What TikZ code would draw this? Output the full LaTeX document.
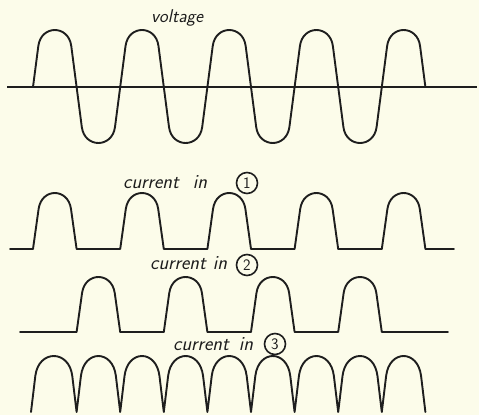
\documentclass[tikz,border=0pt]{standalone}
\usetikzlibrary{calc}
\definecolor{paper}{RGB}{252,252,234}
\definecolor{ink}{RGB}{30,30,30}
% positive lobe (y grows downward): from (x0,B) up to top T and down to (x1,B)
\newcommand\up[6]{-- ({#1+#5*(#3-#4-#6)},{#4+#6}) .. controls ({#1+#5*(#3-#4+#6/3)},{#4-#6/3}) and ({#2-#5*(#3-#4+#6/3)},{#4-#6/3}) .. ({#2-#5*(#3-#4-#6)},{#4+#6}) -- (#2,#3)}
% negative lobe: T below B
\newcommand\down[6]{-- ({#1+#5*(#4-#3-#6)},{#4-#6}) .. controls ({#1+#5*(#4-#3+#6/3)},{#4+#6/3}) and ({#2-#5*(#4-#3+#6/3)},{#4+#6/3}) .. ({#2-#5*(#4-#3-#6)},{#4-#6}) -- (#2,#3)}
\tikzset{
  wave/.style={draw=ink, line width=1.9pt, line join=round, line cap=round},
  axisline/.style={draw=ink, line width=1.6pt},
  lbl/.style={inner sep=0pt, text=ink, font=\fontsize{20}{20}\selectfont\sffamily\itshape},
  num/.style={circle, draw=ink, line width=1.6pt, minimum size=21pt, inner sep=0pt, text=ink, font=\fontsize{16}{16}\selectfont\sffamily},
}
\begin{document}
\begin{tikzpicture}[x=1pt, y=-1pt]
\fill[paper] (0,0) rectangle (479,415);
\useasboundingbox (0,0) rectangle (479,415);
% voltage
\node[lbl, font=\fontsize{18.5}{18.5}\selectfont\sffamily\itshape, anchor=base west] (vlbl) at (151,22) {voltage};
\coordinate (va) at (7,87);
\coordinate (vb) at (477,87);
\draw[axisline] (va) -- (vb);
\draw[wave] (33,87) \up{33}{76.6}{87}{30}{0.13}{16} \down{76.6}{120.2}{87}{143}{0.13}{16}
  \up{120.2}{163.8}{87}{30}{0.13}{16} \down{163.8}{207.4}{87}{143}{0.13}{16}
  \up{207.4}{251}{87}{30}{0.13}{16} \down{251}{294.6}{87}{143}{0.13}{16}
  \up{294.6}{338.2}{87}{30}{0.13}{16} \down{338.2}{381.8}{87}{143}{0.13}{16}
  \up{381.8}{425.4}{87}{30}{0.13}{16};
% current in 1
\node[lbl, anchor=base west] (c1lbl) at (123,188) {current\hspace{14pt}in};
\node[num] (n1) at (247,183) {1};
\draw[wave] (10,249) -- (33,249) \up{33}{76.6}{249}{193}{0.14}{16} -- (120.2,249)
  \up{120.2}{163.8}{249}{193}{0.14}{16} -- (207.4,249)
  \up{207.4}{251}{249}{193}{0.14}{16} -- (294.6,249)
  \up{294.6}{338.2}{249}{193}{0.14}{16} -- (381.8,249)
  \up{381.8}{425.4}{249}{193}{0.14}{16} -- (454,249);
% current in 2
\node[lbl, anchor=base west] (c2lbl) at (150,269) {current\hspace{7pt}in};
\node[num] (n2) at (247,265) {2};
\draw[wave] (20,332) -- (76.6,332) \up{76.6}{120.2}{332}{277}{0.14}{16} -- (163.8,332)
  \up{163.8}{207.4}{332}{277}{0.14}{16} -- (251,332)
  \up{251}{294.6}{332}{277}{0.14}{16} -- (338.2,332)
  \up{338.2}{381.8}{332}{277}{0.14}{16} -- (448,332);
% current in 3
\node[lbl, anchor=base west] (c3lbl) at (173,350) {current\hspace{10pt}in};
\node[num] (n3) at (275,344) {3};
\draw[wave] (31,412) \up{31}{76.6}{412}{356}{0.12}{20}
  \up{76.6}{120.2}{412}{356}{0.12}{20}
  \up{120.2}{163.8}{412}{356}{0.12}{20}
  \up{163.8}{207.4}{412}{356}{0.12}{20}
  \up{207.4}{251}{412}{356}{0.12}{20}
  \up{251}{294.6}{412}{356}{0.12}{20}
  \up{294.6}{338.2}{412}{356}{0.12}{20}
  \up{338.2}{381.8}{412}{356}{0.12}{20}
  \up{381.8}{425.4}{412}{356}{0.12}{20};
\end{tikzpicture}
\end{document}
